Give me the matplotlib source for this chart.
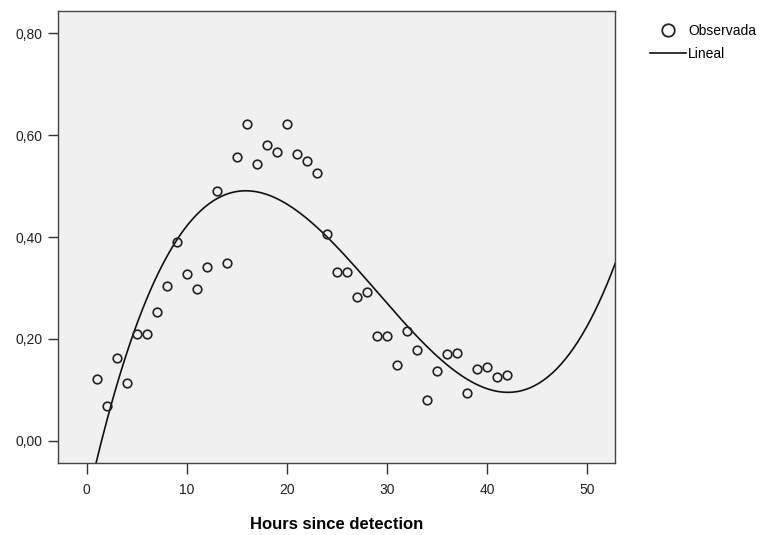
import numpy as np
import matplotlib
matplotlib.use("Agg")
import matplotlib.pyplot as plt
from matplotlib.lines import Line2D
from matplotlib.ticker import FuncFormatter

horas = [1, 2, 3, 4, 5, 6, 7, 8, 9, 10, 11, 12, 13, 14, 15, 16, 17, 18, 19, 20, 21,
         22, 23, 24, 25, 26, 27, 28, 29, 30, 31, 32, 33, 34, 35, 36, 37, 38, 39, 40, 41, 42]
observada = [0.121, 0.067, 0.162, 0.113, 0.210, 0.209, 0.252, 0.303, 0.390, 0.327, 0.297,
             0.341, 0.491, 0.348, 0.557, 0.623, 0.543, 0.580, 0.567, 0.623, 0.564, 0.549,
             0.526, 0.405, 0.332, 0.332, 0.282, 0.292, 0.206, 0.205, 0.148, 0.216, 0.178,
             0.079, 0.136, 0.170, 0.172, 0.094, 0.140, 0.144, 0.124, 0.129]

x_ticks = [0, 10, 20, 30, 40, 50]
y_ticks = [0.0, 0.2, 0.4, 0.6, 0.8]

# Ajuste de curva (modelo cúbico, como en la estimación de curvas)
coef = np.polyfit(horas, observada, 3)
x_curva = np.linspace(-3, 53, 400)
y_curva = np.polyval(coef, x_curva)

plt.rcParams["font.family"] = ["Liberation Sans", "DejaVu Sans"]

fig = plt.figure(figsize=(7.63, 5.35), dpi=100)
ax = fig.add_axes([0.0764, 0.1346, 0.7296, 0.8448])
ax.set_facecolor("#f0f0f0")

ax.plot(x_curva, y_curva, color="#111111", lw=1.2, zorder=2)
ax.plot(horas, observada, linestyle="none", marker="o", markersize=6.2,
        markerfacecolor="none", markeredgecolor="#222222", markeredgewidth=1.2, zorder=3)

ax.set_xlim(-2.84, 52.8)
ax.set_ylim(-0.044, 0.844)
ax.set_xticks(x_ticks)
ax.set_yticks(y_ticks)
ax.yaxis.set_major_formatter(FuncFormatter(lambda v, p: f"{v:.2f}".replace(".", ",")))

for s in ax.spines.values():
    s.set_color("#444444")
    s.set_linewidth(1.0)
ax.tick_params(direction="out", width=1.0, color="#333333",
               labelsize=10, labelcolor="#222222")
ax.tick_params(axis="x", length=8, pad=6.5)
ax.tick_params(axis="y", length=7.2, pad=4.3)

ax.set_xlabel("Hours since detection", fontsize=12, fontweight="bold", labelpad=14)

handles = [
    Line2D([], [], linestyle="none", marker="o", markersize=9, markerfacecolor="none",
           markeredgecolor="#222222", markeredgewidth=1.3, label="Observada"),
    Line2D([], [], color="#111111", lw=1.2, label="Lineal"),
]
fig.legend(handles=handles, loc="upper left", bbox_to_anchor=(0.8445, 0.966),
           frameon=False, fontsize=10, handlelength=2.6, handletextpad=0.15,
           labelspacing=0.65, borderaxespad=0)

fig.savefig("out.png", dpi=100)
